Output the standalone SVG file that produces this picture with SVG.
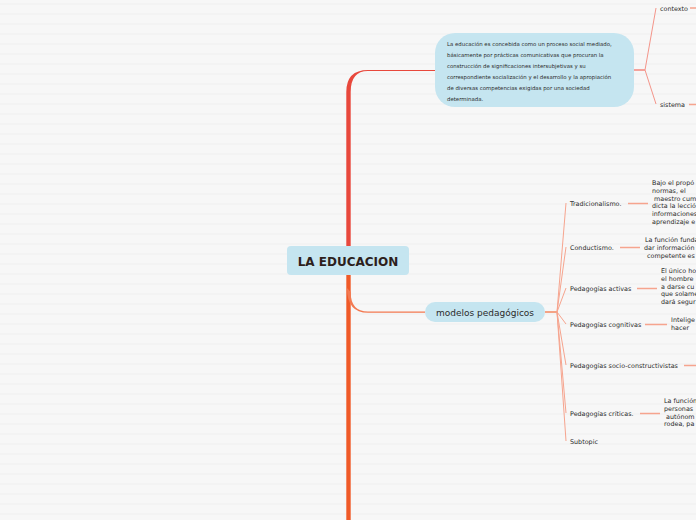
<svg xmlns="http://www.w3.org/2000/svg" width="696" height="520" viewBox="0 0 696 520">
<defs>
<pattern id="bg" x="0" y="0" width="696" height="10" patternUnits="userSpaceOnUse">
<rect width="696" height="10" fill="#f7f7f7"/>
<rect y="3.5" width="696" height="1" fill="#efefef"/>
</pattern>
</defs>
<style>
.t{font-family:"DejaVu Sans",Verdana,sans-serif;fill:#2b2b2b}
.s{font-size:6.4px}
.b{font-size:5.4px}
.thin{fill:none;stroke:#f6a48e;stroke-width:1}
.lead{fill:none;stroke:#f6a48e;stroke-width:1.4}
</style>
<rect width="696" height="520" fill="url(#bg)"/>
<g id="connectors">
<path d="M346.3,250 L346.3,92 Q346.3,70 368,70 L435,70 L435,71 L368,71 Q350.7,71 350.7,92 L350.7,250 Z" fill="#e8483c"/>
<rect x="346.3" y="270" width="4.4" height="250" fill="#f05a28"/>
<path d="M347,288 Q347,312.8 368,312.8 L425,312.8 L425,311.6 L368,311.6 Q350.7,311.6 350.7,292 Z" fill="#f37a52"/>
<path d="M634,70 L645,70" fill="none" stroke="#f26b5f" stroke-width="1.2"/>
<path d="M645,70 L656,8 M645,70 L656,104" fill="none" stroke="#f4958a" stroke-width="1"/>
<path d="M690,8 L696,8 M689,104.5 L696,104.5" class="lead" stroke="#f4958a"/>
<path d="M545,312 L557,312" fill="none" stroke="#f26b3a" stroke-width="1.2"/>
<path d="M557,312 L566,203 M557,312 L566,247 M557,312 L566,288 M557,312 L566,324 M557,312 L566,365 M557,312 L566,413 M557,312 L566,441" class="thin"/>
<path d="M628,203.5 L648,203.5 M620,247.5 L640,247.5 M637,288.5 L657,288.5 M645,324.5 L667,324.5 M684,365.5 L696,365.5 M640,413.5 L660,413.5" class="lead"/>
</g>
<g id="center">
<rect x="287" y="246" width="122" height="29" rx="4" fill="#c5e5f0"/>
<text class="t" x="348" y="265.5" font-size="12" font-weight="bold" text-anchor="middle" style="fill:#2d1f1c">LA EDUCACION</text>
</g>
<g id="definicion">
<rect x="435" y="33" width="199" height="74" rx="20" fill="#c5e5f0"/>
<text class="t b"><tspan x="447" y="46">La educación es concebida como un proceso social mediado,</tspan><tspan x="447" y="57">básicamente por prácticas comunicativas que procuran la</tspan><tspan x="447" y="68">construcción de significaciones intersubjetivas y su</tspan><tspan x="447" y="79">correspondiente socialización y el desarrollo y la apropiación</tspan><tspan x="447" y="90">de diversas competencias exigidas por una sociedad</tspan><tspan x="447" y="101">determinada.</tspan></text>
</g>
<g id="contexto"><text class="t s" x="660" y="10.5">contexto</text></g>
<g id="sistema"><text class="t s" x="660" y="106.5">sistema</text></g>
<g id="modelos">
<rect x="425" y="302" width="120" height="20" rx="10" fill="#c5e5f0"/>
<text class="t" x="485" y="315.5" font-size="9" text-anchor="middle">modelos pedagógicos</text>
</g>
<g id="tradicionalismo">
<text class="t s" x="570" y="205.5">Tradicionalismo.</text>
<text class="t s"><tspan x="652" y="185">Bajo el propó</tspan><tspan x="652" y="192.8">normas, el</tspan><tspan x="652" y="200.6"> maestro cum</tspan><tspan x="652" y="208.4">dicta la lecció</tspan><tspan x="652" y="216.2">informaciones</tspan><tspan x="652" y="224">aprendizaje e</tspan></text>
</g>
<g id="conductismo">
<text class="t s" x="570" y="249.5">Conductismo.</text>
<text class="t s"><tspan x="645" y="242">La función funda</tspan><tspan x="644" y="249.8">dar información</tspan><tspan x="647" y="257.6">competente es</tspan></text>
</g>
<g id="activas">
<text class="t s" x="570" y="290.5">Pedagogías activas</text>
<text class="t s"><tspan x="661" y="273">El único ho</tspan><tspan x="661" y="280.8">el hombre</tspan><tspan x="661" y="288.6">a darse cu</tspan><tspan x="661" y="296.4">que solame</tspan><tspan x="661" y="304.2">dará segur</tspan></text>
</g>
<g id="cognitivas">
<text class="t s" x="570" y="326.5">Pedagogías cognitivas</text>
<text class="t s"><tspan x="671" y="322">Intelige</tspan><tspan x="671" y="329.8">hacer</tspan></text>
</g>
<g id="socio">
<text class="t s" x="570" y="367.5">Pedagogías socio-constructivistas</text>
</g>
<g id="criticas">
<text class="t s" x="570" y="415.5">Pedagogías críticas.</text>
<text class="t s"><tspan x="664" y="403">La función</tspan><tspan x="664" y="410.8">personas</tspan><tspan x="664" y="418.6"> autónom</tspan><tspan x="664" y="426.4">rodea, pa</tspan></text>
</g>
<g id="subtopic">
<text class="t s" x="570" y="443.5">Subtopic</text>
</g>
</svg>
